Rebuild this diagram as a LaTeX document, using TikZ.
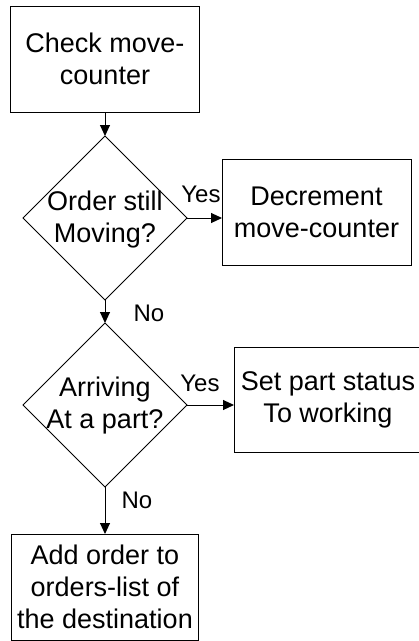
\documentclass[tikz,border=0pt]{standalone}
\usepackage{fontspec}
\setmainfont{Liberation Sans}
\usetikzlibrary{shapes.geometric,arrows.meta}
\begin{document}
\begin{tikzpicture}[x=1pt,y=-1pt,
  every node/.style={inner sep=0pt, outer sep=0pt},
  stepbox/.style={draw, line width=1pt, align=center,
    font=\fontsize{27}{32}\selectfont},
  decision/.style={draw, diamond, line width=1pt,
    minimum width=164pt, minimum height=164pt},
  dtext/.style={align=center, font=\fontsize{27}{32}\selectfont},
  lbl/.style={font=\fontsize{24}{28}\selectfont},
  flow/.style={line width=1pt, -{Triangle[length=11pt,width=10pt]}}]
\useasboundingbox (0,0) rectangle (419,641);

% process boxes
\node[stepbox, minimum width=189pt, minimum height=106pt] (b1) at (105,59)
  {Check move-\\counter};
\node[stepbox, minimum width=189pt, minimum height=106pt] (b2) at (316.5,212)
  {Decrement\\move-counter};
\node[stepbox, minimum width=188pt, minimum height=105pt] (b3) at (328,399.5)
  {Set part status\\To working};
\node[stepbox, minimum width=187pt, minimum height=106pt] (b4) at (105,587)
  {Add order to\\orders-list of\\the destination};

% decisions
\node[decision] (d1) at (105,218) {};
\node[dtext] (d1t) at (105,220) {Order still\\Moving?};
\node[decision] (d2) at (105,405) {};
\node[dtext] (d2t) at (105,405.5) {Arriving\\At a part?};

% connectors
\draw[flow] (b1.south) -- (d1.north);
\draw[flow] (d1.east) -- (d1.east -| b2.west);
\draw[flow] (d1.south) -- (d2.north);
\draw[flow] (d2.east) -- (d2.east -| b3.west);
\draw[flow] (d2.south) -- (b4.north);

% branch labels
\node[lbl] (y1) at (201,194) {Yes};
\node[lbl] (n1) at (149,313) {No};
\node[lbl] (y2) at (200,383) {Yes};
\node[lbl] (n2) at (137,500) {No};
\end{tikzpicture}
\end{document}
